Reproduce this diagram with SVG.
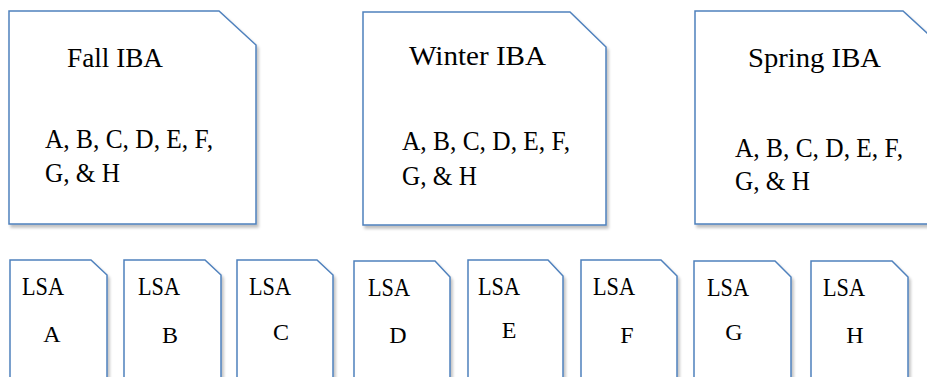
<svg xmlns="http://www.w3.org/2000/svg" width="927" height="377" viewBox="0 0 927 377">
  <style>
    .card { fill: #ffffff; stroke: #4f81bd; stroke-width: 1.5; stroke-linejoin: miter; filter: url(#shade); }
    .t { font-family: "Liberation Serif", "Times New Roman", serif; fill: #000000; }
    .big { font-size: 28px; }
    .body { font-size: 27px; }
    .small { font-size: 25px; }
    .letter { font-size: 24px; text-anchor: middle; }
  </style>
  <defs>
    <filter id="shade" x="-10%" y="-10%" width="130%" height="130%">
      <feGaussianBlur in="SourceAlpha" stdDeviation="1.5"/>
      <feOffset dx="2" dy="3" result="b"/>
      <feComponentTransfer><feFuncA type="linear" slope="0.25"/></feComponentTransfer>
      <feMerge><feMergeNode/><feMergeNode in="SourceGraphic"/></feMerge>
    </filter>
  </defs>

  <!-- assessment windows -->
  <g id="fall-iba">
    <path class="card" d="M9,11 H219 L256,45 V224 H9 Z"/>
    <text class="t big" x="67" y="67" textLength="96" lengthAdjust="spacingAndGlyphs">Fall IBA</text>
    <text class="t body" x="45" y="148" textLength="168" lengthAdjust="spacingAndGlyphs">A, B, C, D, E, F,</text>
    <text class="t body" x="45" y="182" textLength="75" lengthAdjust="spacingAndGlyphs">G, &amp; H</text>
  </g>
  <g id="winter-iba">
    <path class="card" d="M363,12 H570 L606,47 V225 H363 Z"/>
    <text class="t big" x="409" y="65" textLength="137" lengthAdjust="spacingAndGlyphs">Winter IBA</text>
    <text class="t body" x="402" y="150" textLength="168" lengthAdjust="spacingAndGlyphs">A, B, C, D, E, F,</text>
    <text class="t body" x="402" y="185" textLength="75" lengthAdjust="spacingAndGlyphs">G, &amp; H</text>
  </g>
  <g id="spring-iba">
    <path class="card" d="M695,11 H903 L940,45 V224 H695 Z"/>
    <text class="t big" x="748" y="67" textLength="133" lengthAdjust="spacingAndGlyphs">Spring IBA</text>
    <text class="t body" x="735" y="157" textLength="168" lengthAdjust="spacingAndGlyphs">A, B, C, D, E, F,</text>
    <text class="t body" x="735" y="190" textLength="75" lengthAdjust="spacingAndGlyphs">G, &amp; H</text>
  </g>

  <!-- learning strand cards -->
  <g id="lsa-a">
    <path class="card" d="M10,390 V260 H91 L107,275 V390"/>
    <text class="t small" x="22" y="295" textLength="42" lengthAdjust="spacingAndGlyphs">LSA</text>
    <text class="t letter" x="52" y="342">A</text>
  </g>
  <g id="lsa-b">
    <path class="card" d="M124,390 V260 H205 L221,275 V390"/>
    <text class="t small" x="138" y="295" textLength="42" lengthAdjust="spacingAndGlyphs">LSA</text>
    <text class="t letter" x="170" y="343">B</text>
  </g>
  <g id="lsa-c">
    <path class="card" d="M237,390 V260 H317 L333,275 V390"/>
    <text class="t small" x="249" y="295" textLength="42" lengthAdjust="spacingAndGlyphs">LSA</text>
    <text class="t letter" x="281" y="340">C</text>
  </g>
  <g id="lsa-d">
    <path class="card" d="M354,390 V261 H435 L450,277 V390"/>
    <text class="t small" x="368" y="296" textLength="42" lengthAdjust="spacingAndGlyphs">LSA</text>
    <text class="t letter" x="398" y="343">D</text>
  </g>
  <g id="lsa-e">
    <path class="card" d="M468,390 V260 H548 L563,276 V390"/>
    <text class="t small" x="478" y="295" textLength="42" lengthAdjust="spacingAndGlyphs">LSA</text>
    <text class="t letter" x="509" y="338">E</text>
  </g>
  <g id="lsa-f">
    <path class="card" d="M581,390 V260 H661 L677,276 V390"/>
    <text class="t small" x="593" y="295" textLength="42" lengthAdjust="spacingAndGlyphs">LSA</text>
    <text class="t letter" x="627" y="343">F</text>
  </g>
  <g id="lsa-g">
    <path class="card" d="M694,390 V261 H775 L791,277 V390"/>
    <text class="t small" x="707" y="296" textLength="42" lengthAdjust="spacingAndGlyphs">LSA</text>
    <text class="t letter" x="734" y="340">G</text>
  </g>
  <g id="lsa-h">
    <path class="card" d="M811,390 V261 H892 L908,277 V390"/>
    <text class="t small" x="823" y="296" textLength="42" lengthAdjust="spacingAndGlyphs">LSA</text>
    <text class="t letter" x="855" y="343">H</text>
  </g>

  <g id="connectors"/>
</svg>
